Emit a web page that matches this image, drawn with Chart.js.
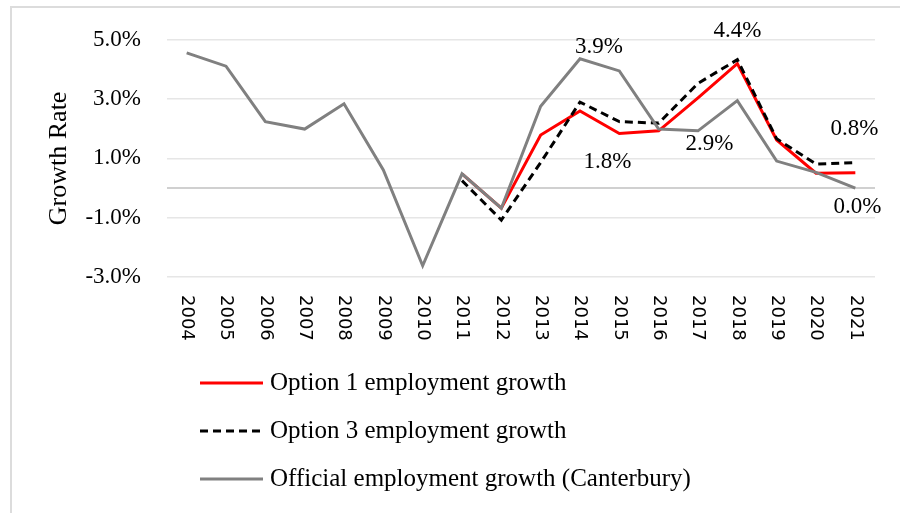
<!DOCTYPE html>
<html>
<head>
<meta charset="utf-8">
<script src="https://cdn.jsdelivr.net/npm/chart.js@4.4.0/dist/chart.umd.min.js"></script>
<style>
  body { margin: 0; background: #fff; }
  #wrap { position: relative; width: 900px; height: 513px; overflow: hidden; }
  #frame { position: absolute; left: 10px; top: 6px; width: 1000px; height: 1000px;
           border: 2px solid #dcdcdc; pointer-events: none; }
</style>
</head>
<body>
<div id="wrap">
  <canvas id="growthChart" width="900" height="513"></canvas>
  <div id="frame"></div>
</div>
<script>
const years = ["2004", "2005", "2006", "2007", "2008", "2009", "2010", "2011", "2012",
    "2013", "2014", "2015", "2016", "2017", "2018", "2019", "2020", "2021"];

const option1 = [null, null, null, null, null, null, null, 0.48, -0.68,
    1.79, 2.6, 1.84, 1.93, 3.04, 4.2, 1.62, 0.5, 0.52];

const option3 = [null, null, null, null, null, null, null, 0.25, -1.08,
    0.86, 2.9, 2.24, 2.19, 3.53, 4.33, 1.66, 0.81, 0.86];

const official = [4.56, 4.11, 2.24, 1.99, 2.84, 0.61, -2.62, 0.48, -0.68,
    2.76, 4.36, 3.95, 1.99, 1.93, 2.95, 0.91, 0.53, 0.0];

const yTicks = [-3, -1, 1, 3, 5];

// which point each text label belongs to: [dataset, index, text]
const pointLabels = [
    [2, 10, "3.9%"],
    [0, 11, "1.8%"],
    [1, 14, "4.4%"],
    [2, 14, "2.9%"],
    [1, 17, "0.8%"],
    [2, 17, "0.0%"]
];
// label offsets from their point (px)
const labelOffsets = [[19, -12], [-12, 28], [0, -29], [-28, 43], [-1, -34], [2, 19]];

const serif = "'Liberation Serif', 'Times New Roman', serif";

const extras = {
    id: "extras",
    beforeDatasetsDraw(chart) {
        const c = chart.ctx, area = chart.chartArea;
        const y0 = chart.scales.y.getPixelForValue(0);
        c.save();
        c.strokeStyle = "#d0d0d0";
        c.lineWidth = 2;
        c.beginPath();
        c.moveTo(area.left, y0);
        c.lineTo(area.right, y0);
        c.stroke();
        c.restore();
    },
    afterDraw(chart) {
        const c = chart.ctx;
        const xs = chart.scales.x;
        c.save();

        // rotated year labels
        c.fillStyle = "#000";
        c.font = "18px 'DejaVu Sans', sans-serif";
        c.textAlign = "left";
        c.textBaseline = "middle";
        years.forEach(function (yr, i) {
            c.save();
            c.translate(xs.getPixelForTick(i), 295);
            c.rotate(Math.PI / 2);
            c.fillText(yr, 0, 0);
            c.restore();
        });

        // data labels
        c.font = "23px " + serif;
        c.textAlign = "center";
        pointLabels.forEach(function (pl, k) {
            const el = chart.getDatasetMeta(pl[0]).data[pl[1]];
            c.fillText(pl[2], el.x + labelOffsets[k][0], el.y + labelOffsets[k][1]);
        });

        // legend, one row per series
        c.font = "25px " + serif;
        c.textAlign = "left";
        chart.data.datasets.forEach(function (ds, i) {
            const y = 383 + i * 48;
            c.save();
            c.strokeStyle = ds.borderColor;
            c.lineWidth = 3;
            c.setLineDash(ds.borderDash || []);
            c.beginPath();
            c.moveTo(200, y);
            c.lineTo(263, y);
            c.stroke();
            c.restore();
            c.fillStyle = "#000";
            c.fillText(ds.label, 270, y);
        });
        c.restore();
    }
};

new Chart(document.getElementById("growthChart"), {
    type: "line",
    data: {
        labels: years,
        datasets: [
            {
                label: "Option 1 employment growth",
                data: option1,
                borderColor: "#ff0000",
                borderWidth: 3,
                order: 3
            },
            {
                label: "Option 3 employment growth",
                data: option3,
                borderColor: "#000000",
                borderWidth: 3,
                borderDash: [8, 5],
                order: 2
            },
            {
                label: "Official employment growth (Canterbury)",
                data: official,
                borderColor: "#808080",
                borderWidth: 3,
                order: 1
            }
        ]
    },
    options: {
        responsive: false,
        animation: false,
        layout: { padding: { top: 35, right: 25, left: 0, bottom: 0 } },
        elements: {
            point: { radius: 0 },
            line: { tension: 0 }
        },
        scales: {
            x: {
                offset: true,
                grid: { display: false },
                border: { display: false },
                ticks: { display: false },
                afterFit: function (s) { s.height = 236; }
            },
            y: {
                min: -3,
                max: 5,
                afterBuildTicks: function (s) { s.ticks = yTicks.map(v => ({ value: v })); },
                grid: { color: "#e6e6e6", lineWidth: 1.5, drawTicks: false },
                border: { display: false },
                ticks: {
                    padding: 26,
                    color: "#000",
                    font: { family: serif, size: 23 },
                    callback: v => v.toFixed(1) + "%"
                },
                title: {
                    display: true,
                    text: "Growth Rate",
                    color: "#000",
                    font: { family: serif, size: 26 },
                    padding: { top: 44, bottom: 0 }
                },
                afterFit: function (s) { s.width = 167; }
            }
        },
        plugins: {
            legend: { display: false },
            tooltip: { enabled: false }
        }
    },
    plugins: [extras]
});
</script>
</body>
</html>
